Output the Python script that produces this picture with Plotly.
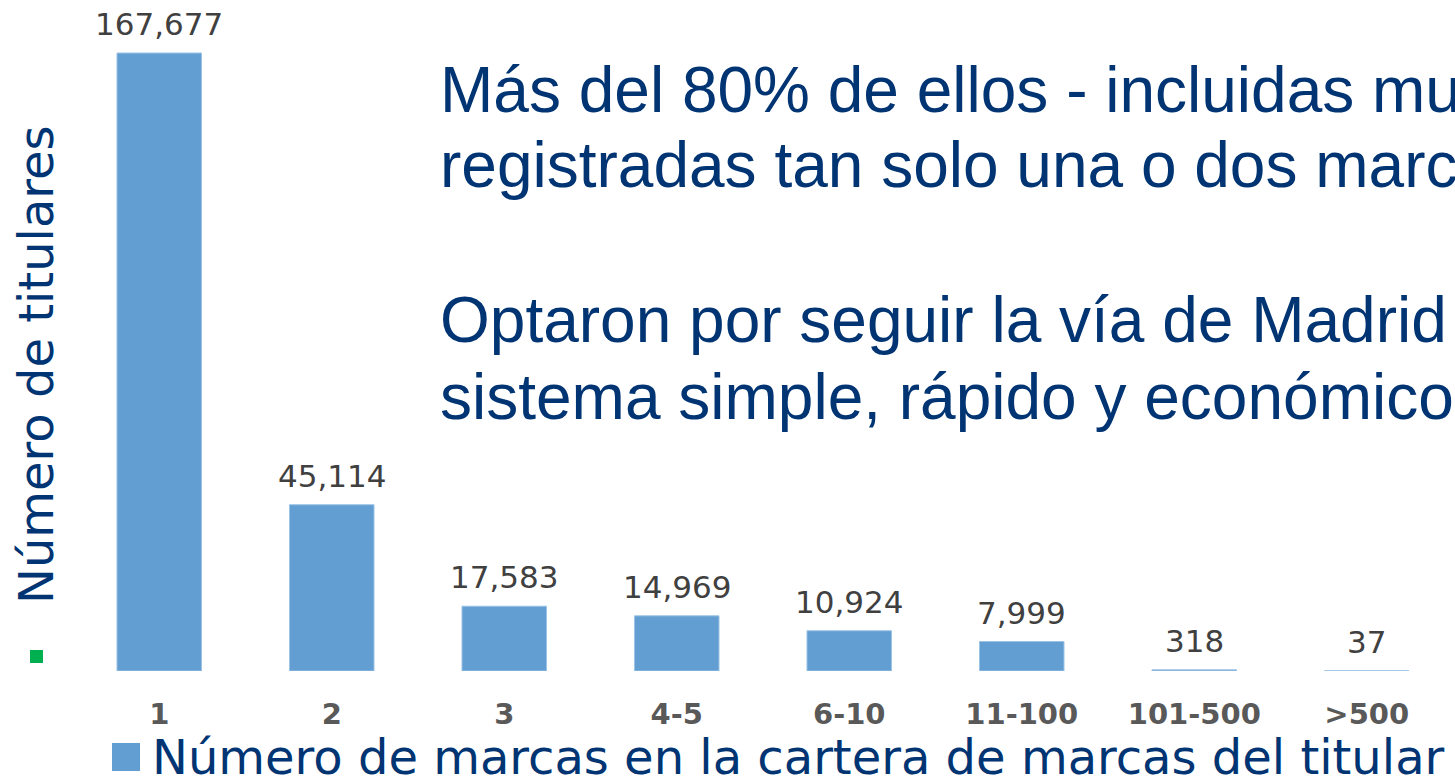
import plotly.graph_objects as go

categories = ["1", "2", "3", "4-5", "6-10", "11-100", "101-500", ">500"]
titulares = [167677, 45114, 17583, 14969, 10924, 7999, 318, 37]
value_labels = ["167,677", "45,114", "17,583", "14,969", "10,924", "7,999", "318", "37"]

y_title = "Número de titulares"
legend_label = "Número de marcas en la cartera de marcas del titular"
message_lines = [
    "Más del 80% de ellos - incluidas muchas pymes - tienen",
    "registradas tan solo una o dos marcas",
    "",
    "Optaron por seguir la vía de Madrid por ser un",
    "sistema simple, rápido y económico",
]

BAR = "#629ed1"
DARK = "#003473"

W, H = 1455, 777
L, R, T, B = 73, 2, 40, 106
pw = W - L - R
ph = H - T - B

def px(x):
    return (x - L) / pw

def py(y):
    return (H - B - y) / ph

fig = go.Figure()
fig.add_trace(go.Bar(
    x=categories, y=titulares,
    marker=dict(color=BAR, line=dict(color="#9cc3e6", width=1)),
    showlegend=False,
))

# value labels above bars (data coordinates; category index on x)
for i, (v, lab) in enumerate(zip(titulares, value_labels)):
    fig.add_annotation(x=i, y=v, text=lab, showarrow=False,
                       xanchor="center", yanchor="bottom", yshift=9,
                       font=dict(family="DejaVu Sans", size=31, color="#404040"))

fig.update_layout(
    width=W, height=H,
    margin=dict(l=L, r=R, t=T, b=B),
    paper_bgcolor="white", plot_bgcolor="white",
    bargap=0.51,
    xaxis=dict(type="category", showgrid=False, showline=False, zeroline=False,
               ticks="",
               tickfont=dict(family="DejaVu Sans", size=29, color="#595959",
                             weight="bold"),
               ticklabelstandoff=23),
    yaxis=dict(visible=False, range=[0, 167677 * ph / 618]),
    font=dict(family="DejaVu Sans"),
)

# y axis title
fig.add_annotation(text=y_title, xref="paper", yref="paper",
                   x=px(36), y=py(365), textangle=-90, showarrow=False,
                   xanchor="center", yanchor="middle",
                   font=dict(family="DejaVu Sans", size=48, color=DARK))
# green marker
fig.add_shape(type="rect", xref="paper", yref="paper",
              x0=px(30), x1=px(43), y0=py(663), y1=py(650),
              fillcolor="#00b050", line=dict(width=0))

# legend
fig.add_shape(type="rect", xref="paper", yref="paper",
              x0=px(112), x1=px(140), y0=py(771), y1=py(743),
              fillcolor=BAR, line=dict(width=0))
fig.add_annotation(text=legend_label, xref="paper", yref="paper",
                   x=px(150), y=py(757), showarrow=False,
                   xanchor="left", yanchor="middle",
                   font=dict(family="DejaVu Sans", size=48, color=DARK))

# message, one annotation per line
baselines = [113, 188, 265, 343, 420]
for line, yb in zip(message_lines, baselines):
    if not line:
        continue
    fig.add_annotation(text=line, xref="paper", yref="paper",
                       x=px(438), y=py(yb - 23), showarrow=False, align="left",
                       xanchor="left", yanchor="middle",
                       font=dict(family="Liberation Sans", size=64, color=DARK))

fig.write_html("out.html")
